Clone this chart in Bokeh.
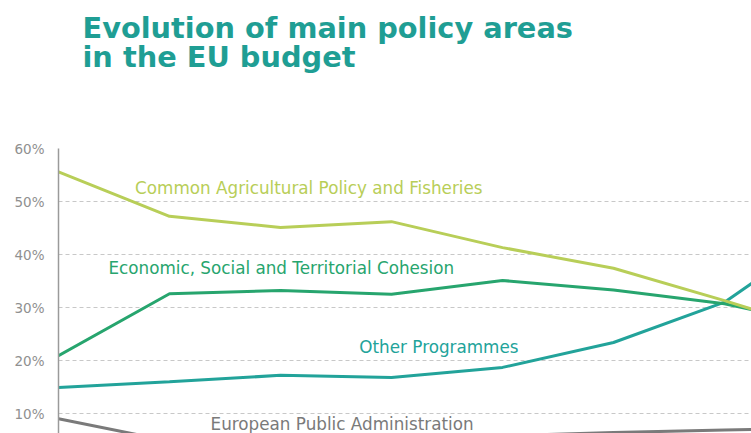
from bokeh.plotting import figure
from bokeh.layouts import column
from bokeh.models import Range1d, Label, PrintfTickFormatter, FixedTicker
from bokeh.embed import file_html
from bokeh.resources import INLINE

# period index (the x axis itself is outside the visible crop)
periods = [0, 1, 2, 3, 4, 5, 6, 7]
agriculture = [55.6, 47.2, 45.1, 46.2, 41.3, 37.4, 31.3, 24.8]
cohesion = [20.9, 32.6, 33.2, 32.5, 35.1, 33.3, 30.7, 26.2]
other_programmes = [14.9, 16.0, 17.2, 16.8, 18.7, 23.4, 31.0, 45.5]
public_admin = [9.0, 4.8, 4.9, 5.3, 5.8, 6.4, 6.9, 7.3]
y_ticks = [10, 20, 30, 40, 50, 60]

series_names = ["Common Agricultural Policy and Fisheries",
                "Economic, Social and Territorial Cohesion",
                "Other Programmes",
                "European Public Administration"]
title_lines = ["Evolution of main policy areas", "in the EU budget"]

C_AGRI = "#b8ce58"
C_COH = "#27a56e"
C_OTH = "#22a39a"
C_ADM = "#7a7a7a"
C_TITLE = "#1f9e94"

TITLE_H = 130
LEFT = 58
TOP = 148 - TITLE_H

# --- title strip (ranges equal to page pixels, y downwards) ---
t = figure(width=751, height=TITLE_H, output_backend="svg", toolbar_location=None,
           title_location=None,
           x_range=Range1d(LEFT, 751), y_range=Range1d(TITLE_H, 0),
           x_axis_location=None, y_axis_location=None,
           min_border_left=LEFT, min_border_right=0, min_border_top=0, min_border_bottom=0)
t.outline_line_color = None
t.grid.visible = False
tt = dict(text_font="DejaVu Sans", text_font_style="bold", text_font_size="28.8px",
          text_color=C_TITLE, text_baseline="alphabetic")
t.add_layout(Label(x=82, y=27, text=title_lines[0], **tt))
t.add_layout(Label(x=82, y=56, text=title_lines[1], **tt))

# --- chart ---
p = figure(width=751, height=433 - TITLE_H, output_backend="svg", toolbar_location=None,
           x_range=Range1d(0, 6.243), y_range=Range1d(6.23, 60),
           x_axis_location=None, min_border_left=LEFT, min_border_top=TOP,
           min_border_right=0, min_border_bottom=0)
p.outline_line_color = None
p.background_fill_color = "white"
p.border_fill_color = "white"

p.xgrid.visible = False
p.ygrid.grid_line_color = "#c8c8c8"
p.ygrid.grid_line_dash = "4 3"
p.ygrid.grid_line_width = 1

ya = p.yaxis[0]
ya.ticker = FixedTicker(ticks=y_ticks)
ya.formatter = PrintfTickFormatter(format="%d%%")
ya.axis_line_color = "#9a9a9a"
ya.axis_line_width = 1.5
ya.major_tick_line_color = None
ya.minor_tick_line_color = None
ya.major_label_text_color = "#909090"
ya.major_label_text_font = "DejaVu Sans"
ya.major_label_text_font_size = "13.5px"
ya.major_label_standoff = 8

for ys, col in [(public_admin, C_ADM), (other_programmes, C_OTH),
                (cohesion, C_COH), (agriculture, C_AGRI)]:
    p.line(periods, ys, line_color=col, line_width=3)

lbl = dict(text_font="DejaVu Sans", text_font_size="16.8px", text_baseline="middle")
p.add_layout(Label(x=0.69, y=52.6, text=series_names[0], text_color=C_AGRI, **lbl))
p.add_layout(Label(x=0.45, y=37.5, text=series_names[1], text_color=C_COH, **lbl))
p.add_layout(Label(x=2.71, y=22.6, text=series_names[2], text_color=C_OTH, **lbl))
p.add_layout(Label(x=1.37, y=8.0, text=series_names[3], text_color=C_ADM, **lbl))

layout = column(t, p, spacing=0)
open("out.html", "w").write(file_html(layout, INLINE))
